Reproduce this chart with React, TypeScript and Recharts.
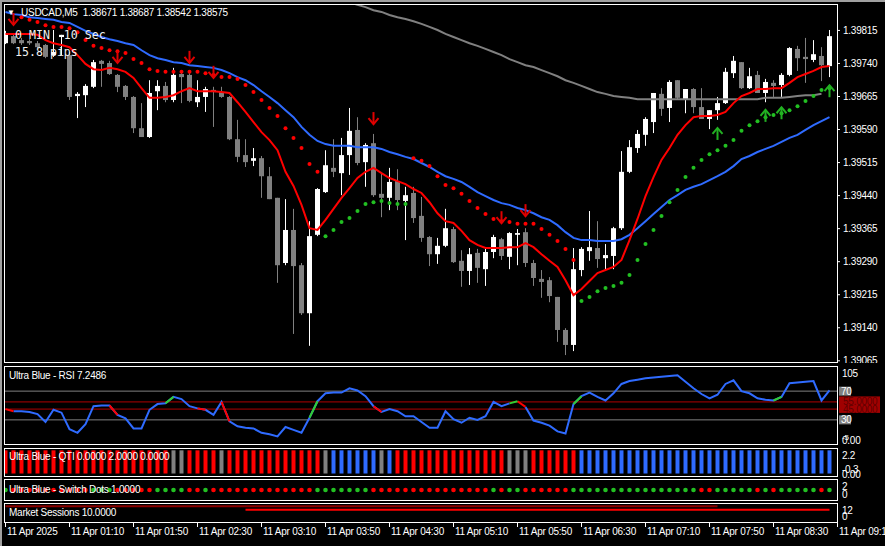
import React from 'react';
import { ComposedChart, Bar, Line, Scatter, XAxis, YAxis, ReferenceLine, Cell } from 'recharts';

const FONT = '"Liberation Sans", Arial, sans-serif';
const MONO = '"DejaVu Sans Mono", monospace';

// USDCAD M5, 104 bars from 11 Apr 00:30
const opens = [
  1.39786, 1.39802, 1.39793, 1.39791, 1.39786, 1.39782, 1.39759, 1.39800, 1.39759, 1.39666,
  1.39668, 1.39687, 1.39746, 1.39741, 1.39714, 1.39689, 1.39664, 1.39593, 1.39573, 1.39677,
  1.39689, 1.39657, 1.39716, 1.39714, 1.39652, 1.39664, 1.39680, 1.39675, 1.39664, 1.39568,
  1.39532, 1.39519, 1.39525, 1.39484, 1.39435, 1.39287, 1.39362, 1.39282, 1.39173, 1.39351,
  1.39448, 1.39503, 1.39491, 1.39532, 1.39589, 1.39516, 1.39559, 1.39444, 1.39435, 1.39473,
  1.39428, 1.39446, 1.39394, 1.39346, 1.39307, 1.39326, 1.39364, 1.39292, 1.39269, 1.39310,
  1.39273, 1.39312, 1.39341, 1.39301, 1.39351, 1.39357, 1.39287, 1.39251, 1.39248, 1.39210,
  1.39135, 1.39101, 1.39271, 1.39314, 1.39321, 1.39298, 1.39303, 1.39366, 1.39494, 1.39548,
  1.39578, 1.39607, 1.39671, 1.39639, 1.39702, 1.39659, 1.39682, 1.39641, 1.39614, 1.39634,
  1.39650, 1.39718, 1.39743, 1.39684, 1.39714, 1.39673, 1.39696, 1.39691, 1.39714, 1.39773,
  1.39755, 1.39748, 1.39757, 1.39734,
];
const highs = [
  1.39814, 1.39809, 1.39798, 1.39795, 1.39791, 1.39784, 1.39816, 1.39805, 1.39766, 1.39675,
  1.39693, 1.39748, 1.39748, 1.39746, 1.39716, 1.39691, 1.39666, 1.39650, 1.39702, 1.39702,
  1.39698, 1.39730, 1.39725, 1.39718, 1.39702, 1.39687, 1.39687, 1.39687, 1.39666, 1.39612,
  1.39568, 1.39548, 1.39530, 1.39505, 1.39435, 1.39432, 1.39410, 1.39287, 1.39382, 1.39457,
  1.39543, 1.39568, 1.39571, 1.39639, 1.39618, 1.39559, 1.39580, 1.39491, 1.39503, 1.39500,
  1.39460, 1.39460, 1.39437, 1.39348, 1.39344, 1.39410, 1.39369, 1.39316, 1.39321, 1.39319,
  1.39321, 1.39351, 1.39344, 1.39357, 1.39364, 1.39366, 1.39294, 1.39271, 1.39255, 1.39210,
  1.39139, 1.39321, 1.39323, 1.39405, 1.39382, 1.39330, 1.39369, 1.39541, 1.39566, 1.39589,
  1.39618, 1.39673, 1.39684, 1.39702, 1.39702, 1.39682, 1.39684, 1.39684, 1.39634, 1.39664,
  1.39730, 1.39757, 1.39743, 1.39730, 1.39723, 1.39705, 1.39702, 1.39718, 1.39777, 1.39780,
  1.39798, 1.39793, 1.39777, 1.39816,
];
const lows = [
  1.39784, 1.39784, 1.39782, 1.39782, 1.39775, 1.39752, 1.39755, 1.39759, 1.39657, 1.39616,
  1.39641, 1.39684, 1.39687, 1.39714, 1.39675, 1.39657, 1.39582, 1.39573, 1.39571, 1.39634,
  1.39652, 1.39652, 1.39650, 1.39652, 1.39641, 1.39630, 1.39596, 1.39662, 1.39566, 1.39516,
  1.39505, 1.39507, 1.39435, 1.39432, 1.39242, 1.39282, 1.39126, 1.39169, 1.39099, 1.39348,
  1.39446, 1.39482, 1.39441, 1.39487, 1.39509, 1.39460, 1.39437, 1.39391, 1.39407, 1.39407,
  1.39339, 1.39378, 1.39335, 1.39280, 1.39285, 1.39323, 1.39287, 1.39233, 1.39237, 1.39242,
  1.39235, 1.39298, 1.39294, 1.39273, 1.39282, 1.39278, 1.39235, 1.39208, 1.39198, 1.39108,
  1.39078, 1.39087, 1.39257, 1.39292, 1.39276, 1.39273, 1.39273, 1.39362, 1.39491, 1.39537,
  1.39553, 1.39582, 1.39621, 1.39607, 1.39659, 1.39627, 1.39627, 1.39614, 1.39591, 1.39612,
  1.39648, 1.39707, 1.39682, 1.39682, 1.39673, 1.39652, 1.39664, 1.39664, 1.39711, 1.39723,
  1.39696, 1.39743, 1.39700, 1.39709,
];
const closes = [
  1.39809, 1.39786, 1.39786, 1.39786, 1.39777, 1.39755, 1.39766, 1.39805, 1.39664, 1.39671,
  1.39689, 1.39743, 1.39739, 1.39716, 1.39687, 1.39664, 1.39593, 1.39573, 1.39673, 1.39689,
  1.39657, 1.39714, 1.39709, 1.39655, 1.39664, 1.39682, 1.39675, 1.39664, 1.39568, 1.39528,
  1.39516, 1.39525, 1.39484, 1.39432, 1.39282, 1.39362, 1.39280, 1.39173, 1.39348, 1.39455,
  1.39509, 1.39494, 1.39532, 1.39587, 1.39514, 1.39555, 1.39441, 1.39435, 1.39471, 1.39430,
  1.39441, 1.39389, 1.39344, 1.39307, 1.39326, 1.39366, 1.39289, 1.39269, 1.39307, 1.39276,
  1.39312, 1.39346, 1.39303, 1.39355, 1.39355, 1.39287, 1.39253, 1.39244, 1.39212, 1.39135,
  1.39101, 1.39273, 1.39319, 1.39323, 1.39296, 1.39305, 1.39366, 1.39494, 1.39550, 1.39580,
  1.39614, 1.39673, 1.39637, 1.39698, 1.39662, 1.39682, 1.39641, 1.39614, 1.39634, 1.39650,
  1.39721, 1.39746, 1.39684, 1.39711, 1.39673, 1.39698, 1.39689, 1.39714, 1.39775, 1.39752,
  1.39750, 1.39761, 1.39736, 1.39802,
];

// moving averages drawn on the price window
const fastMa = [
  1.39807, 1.39807, 1.39807, 1.39807, 1.39805, 1.39793, 1.39786, 1.39782, 1.39777, 1.39759,
  1.39739, 1.39727, 1.39725, 1.39730, 1.39727, 1.39721, 1.39707, 1.39684, 1.39662, 1.39662,
  1.39664, 1.39668, 1.39677, 1.39684, 1.39677, 1.39677, 1.39677, 1.39675, 1.39673, 1.39652,
  1.39630, 1.39607, 1.39584, 1.39566, 1.39543, 1.39494, 1.39462, 1.39419, 1.39366, 1.39362,
  1.39385, 1.39410, 1.39435, 1.39457, 1.39480, 1.39494, 1.39503, 1.39491, 1.39480, 1.39473,
  1.39466, 1.39455, 1.39446, 1.39425, 1.39400, 1.39382, 1.39378, 1.39360, 1.39339, 1.39328,
  1.39321, 1.39321, 1.39321, 1.39323, 1.39323, 1.39332, 1.39323, 1.39307, 1.39292, 1.39278,
  1.39248, 1.39214, 1.39228, 1.39246, 1.39264, 1.39271, 1.39278, 1.39294, 1.39339, 1.39387,
  1.39439, 1.39482, 1.39521, 1.39548, 1.39578, 1.39600, 1.39618, 1.39621, 1.39621, 1.39623,
  1.39630, 1.39650, 1.39666, 1.39673, 1.39682, 1.39682, 1.39684, 1.39684, 1.39696, 1.39709,
  1.39716, 1.39723, 1.39732, 1.39734,
];
const slowMa = [
  1.39857, 1.39852, 1.39850, 1.39845, 1.39843, 1.39841, 1.39839, 1.39834, 1.39832, 1.39823,
  1.39814, 1.39807, 1.39800, 1.39795, 1.39791, 1.39786, 1.39782, 1.39770, 1.39759, 1.39752,
  1.39748, 1.39743, 1.39741, 1.39736, 1.39734, 1.39732, 1.39730, 1.39725, 1.39718, 1.39709,
  1.39702, 1.39691, 1.39677, 1.39664, 1.39650, 1.39634, 1.39618, 1.39596, 1.39578, 1.39564,
  1.39557, 1.39553, 1.39553, 1.39553, 1.39550, 1.39550, 1.39550, 1.39546, 1.39539, 1.39534,
  1.39528, 1.39523, 1.39514, 1.39505, 1.39494, 1.39484, 1.39478, 1.39471, 1.39460, 1.39448,
  1.39439, 1.39430, 1.39423, 1.39419, 1.39412, 1.39407, 1.39400, 1.39391, 1.39385, 1.39373,
  1.39357, 1.39344, 1.39339, 1.39339, 1.39337, 1.39337, 1.39337, 1.39341, 1.39351, 1.39366,
  1.39382, 1.39398, 1.39414, 1.39430, 1.39441, 1.39453, 1.39460, 1.39466, 1.39475, 1.39484,
  1.39494, 1.39507, 1.39523, 1.39530, 1.39539, 1.39546, 1.39553, 1.39562, 1.39571, 1.39578,
  1.39589, 1.39600, 1.39609, 1.39618,
];
// long MA enters the window from above around bar 42
const longMaStart = 42;
const longMa = [
  1.39886, 1.39879, 1.39873, 1.39868, 1.39861, 1.39857, 1.39850, 1.39845, 1.39841, 1.39836,
  1.39830, 1.39823, 1.39816, 1.39807, 1.39800, 1.39793, 1.39786, 1.39780, 1.39773, 1.39766,
  1.39759, 1.39750, 1.39743, 1.39736, 1.39732, 1.39725, 1.39718, 1.39711, 1.39702, 1.39696,
  1.39689, 1.39682, 1.39675, 1.39671, 1.39666, 1.39664, 1.39662, 1.39659, 1.39659, 1.39659,
  1.39659, 1.39659, 1.39659, 1.39659, 1.39659, 1.39659, 1.39659, 1.39659, 1.39659, 1.39659,
  1.39659, 1.39659, 1.39659, 1.39662, 1.39662, 1.39662, 1.39664, 1.39666, 1.39668, 1.39668,
  1.39671,
];

// trailing stop dots, from bar 2
const sarStart = 2;
const sarDots = [
  1.39845, 1.39839, 1.39834, 1.39827, 1.39823, 1.39823, 1.39820, 1.39811, 1.39793, 1.39780,
  1.39775, 1.39770, 1.39768, 1.39764, 1.39750, 1.39741, 1.39727, 1.39723, 1.39721, 1.39721,
  1.39721, 1.39721, 1.39721, 1.39718, 1.39714, 1.39709, 1.39709, 1.39705, 1.39691, 1.39675,
  1.39657, 1.39639, 1.39621, 1.39593, 1.39571, 1.39548, 1.39512, 1.39494,
  1.39348, 1.39362, 1.39380, 1.39389, 1.39405, 1.39421, 1.39425, 1.39428, 1.39423, 1.39421,
  1.39421,
  1.39525, 1.39519, 1.39507, 1.39484, 1.39464, 1.39457, 1.39444, 1.39428, 1.39412, 1.39398,
  1.39387, 1.39382, 1.39380, 1.39376, 1.39376, 1.39376, 1.39364, 1.39351, 1.39337, 1.39319,
  1.39294,
  1.39201, 1.39210, 1.39223, 1.39230, 1.39235, 1.39242, 1.39260, 1.39294, 1.39330, 1.39362,
  1.39394, 1.39425, 1.39453, 1.39482, 1.39503, 1.39521, 1.39534, 1.39543, 1.39553, 1.39566,
  1.39587, 1.39600, 1.39609, 1.39618, 1.39623, 1.39627, 1.39634, 1.39643, 1.39655, 1.39666,
  1.39680, 1.39684,
];
const sarUpFrom = [40, 72];
const sarUpTo = [50, 103];

const downArrowBars = [1, 14, 23, 26, 46, 62, 65];
const downArrowPrices = [1.39841, 1.39755, 1.39755, 1.39721, 1.39616, 1.39391, 1.39407];
const upArrowBars = [89, 95, 97, 103];
const upArrowPrices = [1.39580, 1.39621, 1.39627, 1.39677];

const priceTicks = [1.39815, 1.3974, 1.39665, 1.3959, 1.39515, 1.3944, 1.39365, 1.3929, 1.39215, 1.3914, 1.39065];

// RSI window
const rsi = [
  45, 42, 42, 41, 38, 27, 44, 40, 17, 12, 24, 49, 50, 50, 37, 32, 18, 18, 44, 52,
  53, 62, 59, 49, 46, 44, 37, 55, 28, 21, 19, 18, 12, 10, 7, 20, 16, 12, 33, 56,
  67, 68, 68, 74, 71, 63, 49, 41, 45, 42, 35, 35, 27, 19, 19, 42, 31, 26, 33, 30,
  35, 55, 49, 53, 56, 48, 29, 26, 22, 14, 11, 52, 63, 68, 62, 57, 67, 80, 84, 86,
  88, 89, 90, 91, 92, 83, 74, 66, 60, 65, 80, 85, 70, 67, 60, 58, 57, 62, 81, 82,
  83, 84, 57, 71,
];
const rsiRedSeg = [1, 14, 25, 28, 47, 65];
const rsiGreenSeg = [21, 39, 64, 72, 97];

// QTI histogram colour runs: r red, g gray, b blue
const qtiRuns: [string, number][] = [
  ['r', 21], ['g', 2], ['r', 4], ['g', 1], ['r', 12], ['g', 1], ['b', 6], ['g', 1], ['b', 1],
  ['r', 14], ['g', 3], ['r', 6], ['b', 32],
];
const qtiLevel = 2;

// switch dots colour runs: g green, r red
const switchRuns: [string, number][] = [
  ['g', 1], ['r', 10], ['g', 3], ['r', 5], ['g', 4], ['r', 2], ['g', 1], ['r', 13], ['g', 7],
  ['r', 15], ['g', 1], ['r', 1], ['g', 2], ['r', 6], ['g', 16], ['r', 2], ['g', 5], ['r', 1],
  ['g', 1], ['r', 1], ['g', 5], ['r', 1], ['g', 1],
];

// market sessions
const sessionLevels = [10, 8];
const sessionFrom = [0, 30];
const sessionTo = [89, 103];
const sessionColors = ['#8b0000', '#ff0000'];

const timeTicks = [0, 8, 16, 24, 32, 40, 48, 56, 64, 72, 80, 88, 96, 104];
const timeLabels = [
  '11 Apr 2025', '11 Apr 01:10', '11 Apr 01:50', '11 Apr 02:30', '11 Apr 03:10', '11 Apr 03:50',
  '11 Apr 04:30', '11 Apr 05:10', '11 Apr 05:50', '11 Apr 06:30', '11 Apr 07:10', '11 Apr 07:50',
  '11 Apr 08:30', '11 Apr 09:10',
];

const X_DOMAIN: [number, number] = [-0.1875, 103.9375];
const TONES: Record<string, string> = { r: '#ff0000', g: '#808080', b: '#2f6bff' };

const expand = (runs: [string, number][]) => runs.flatMap(([t, n]) => Array(n).fill(t));
const qtiTones = expand(qtiRuns);
const switchTones = expand(switchRuns);

const rows = opens.map((o, i) => ({
  i,
  o,
  h: highs[i],
  l: lows[i],
  c: closes[i],
  range: [lows[i], highs[i]],
  fast: fastMa[i],
  slow: slowMa[i],
  long: i >= longMaStart ? longMa[i - longMaStart] : null,
}));

const isUp = (i: number) => sarUpFrom.some((f, k) => i >= f && i <= sarUpTo[k]);
const sarRed = sarDots.map((y, k) => ({ i: k + sarStart, y })).filter((p) => !isUp(p.i));
const sarGreen = sarDots.map((y, k) => ({ i: k + sarStart, y })).filter((p) => isUp(p.i));
const downArrows = downArrowBars.map((i, k) => ({ i, y: downArrowPrices[k] }));
const upArrows = upArrowBars.map((i, k) => ({ i, y: upArrowPrices[k] }));

const segTone = (i: number) =>
  rsiRedSeg.includes(i) ? 'r' : rsiGreenSeg.includes(i) ? 'g' : 'b';
const rsiRows = rsi.map((v, i) => {
  const has = (t: string) => (i > 0 && segTone(i) === t) || (i < rsi.length - 1 && segTone(i + 1) === t);
  return { i, b: has('b') ? v : null, r: has('r') ? v : null, g: has('g') ? v : null };
});

const qtiRows = qtiTones.map((t, i) => ({ i, q: qtiLevel, t }));
const switchPts = switchTones.map((t, i) => ({ i, y: 1, t }));
const sessionRows = opens.map((_, i) => {
  const row: any = { i };
  sessionLevels.forEach((lv, k) => {
    row['s' + k] = i >= sessionFrom[k] && i <= sessionTo[k] ? lv : null;
  });
  return row;
});

const Candle = (props: any) => {
  const { x, y, width, height, payload } = props;
  if (x == null || !payload) return null;
  const cx = Math.round(x + width / 2) + 0.5;
  const top = Math.min(y, y + height);
  const span = Math.abs(height);
  const { o, h, l, c } = payload;
  const k = h - l > 0 ? span / (h - l) : 0;
  const bTop = top + (h - Math.max(o, c)) * k;
  const bBot = top + (h - Math.min(o, c)) * k;
  const col = c >= o ? '#ffffff' : '#808080';
  return (
    <g>
      <line x1={cx} x2={cx} y1={top} y2={top + span} stroke={col} strokeWidth={1} />
      <rect x={cx - 2.5} y={bTop} width={5} height={Math.max(1, bBot - bTop)} fill={col} />
    </g>
  );
};

const dot = (fill: string, r: number) => (p: any) =>
  <circle cx={p.cx} cy={p.cy} r={r} fill={fill} />;

const DownArrow = (p: any) => (
  <g stroke="#e00000" strokeWidth={2} fill="none">
    <line x1={p.cx} y1={p.cy - 6} x2={p.cx} y2={p.cy + 6} />
    <polyline points={`${p.cx - 5},${p.cy} ${p.cx},${p.cy + 6} ${p.cx + 5},${p.cy}`} />
  </g>
);
const UpArrow = (p: any) => (
  <g stroke="#22b022" strokeWidth={2} fill="none">
    <line x1={p.cx} y1={p.cy + 6} x2={p.cx} y2={p.cy - 6} />
    <polyline points={`${p.cx - 5},${p.cy} ${p.cx},${p.cy - 6} ${p.cx + 5},${p.cy}`} />
  </g>
);
const SwitchDot = (p: any) => (
  <circle cx={p.cx} cy={p.cy} r={2.3} fill={p.payload.t === 'g' ? '#22c022' : '#ff0000'} />
);

const txt = { fontFamily: FONT, fontSize: 10, letterSpacing: -0.25, fill: '#ffffff' } as const;

const PriceTick = ({ x, y, payload }: any) => (
  <text x={x} y={y + 3.5} {...txt}>{payload.value.toFixed(5)}</text>
);

const RsiTick = ({ x, y, payload }: any) => {
  const v = payload.value;
  if (v === 105) return <text x={x + 5} y={y + 10.5} {...txt}>105</text>;
  if (v === 70 || v === 30)
    return (
      <g>
        <rect x={x + 2} y={y - 4.5} width={12} height={9} fill="#808080" />
        <text x={x + 4} y={y + 3.5} {...txt}>{v}</text>
      </g>
    );
  if (v === 55)
    return (
      <g>
        <rect x={x + 2} y={y - 5.5} width={41} height={16.5} fill="#a00000" />
        <text x={x + 6} y={y + 3.5} {...txt} fill="#600000">55.0000</text>
      </g>
    );
  if (v === 45) return <text x={x + 6} y={y + 3.5} {...txt} fill="#600000">45.0000</text>;
  if (v === 0) return <text x={x + 5} y={y + 3} {...txt}>0.00</text>;
  return <text x={x + 5} y={y - 5} {...txt} fontSize={8}>-5</text>;
};

const TimeTick = ({ x, y, payload }: any) => (
  <g>
    <line x1={x} x2={x} y1={y} y2={y + 4} stroke="#ffffff" />
    <text x={x + 1.5} y={y + 12} {...txt}>{timeLabels[timeTicks.indexOf(payload.value)]}</text>
  </g>
);

const xAxisHidden = <XAxis dataKey="i" type="number" domain={X_DOMAIN} allowDataOverflow hide />;

export default function App() {
  const frames = [
    [4, 363],
    [366, 445],
    [448, 477],
    [479, 501],
    [503, 523],
  ];
  return (
    <div style={{ position: 'absolute', left: 0, top: 0, width: 885, height: 546, background: '#000', overflow: 'hidden' }}>
      {/* price window */}
      <div style={{ position: 'absolute', left: 0, top: 4 }}>
        <ComposedChart width={885} height={359} data={rows} margin={{ top: 0, right: 0, bottom: 0, left: 4 }}>
          {xAxisHidden}
          <YAxis
            orientation="right"
            width={48}
            domain={[1.3906, 1.39875]}
            allowDataOverflow
            ticks={priceTicks}
            interval={0}
            tick={<PriceTick />}
            tickLine={{ stroke: '#ffffff' }}
            tickSize={3}
            tickMargin={3}
            axisLine={false}
          />
          <Bar dataKey="range" barSize={5} shape={Candle} isAnimationActive={false} />
          <Line dataKey="long" stroke="#808080" strokeWidth={2} dot={false} isAnimationActive={false} />
          <Line dataKey="slow" stroke="#2f6bff" strokeWidth={2} dot={false} isAnimationActive={false} />
          <Line dataKey="fast" stroke="#ff0000" strokeWidth={2} dot={false} isAnimationActive={false} />
          <Scatter data={sarRed} dataKey="y" shape={dot('#ff0000', 2)} isAnimationActive={false} />
          <Scatter data={sarGreen} dataKey="y" shape={dot('#22c022', 2)} isAnimationActive={false} />
          <Scatter data={downArrows} dataKey="y" shape={DownArrow} isAnimationActive={false} />
          <Scatter data={upArrows} dataKey="y" shape={UpArrow} isAnimationActive={false} />
        </ComposedChart>
      </div>

      {/* RSI */}
      <div style={{ position: 'absolute', left: 0, top: 366 }}>
        <ComposedChart width={885} height={79} data={rsiRows} margin={{ top: 0, right: 0, bottom: 0, left: 4 }}>
          {xAxisHidden}
          <YAxis
            orientation="right"
            width={48}
            domain={[-5, 105]}
            allowDataOverflow
            ticks={[105, 70, 55, 45, 30, 0, -5]}
            interval={0}
            tick={<RsiTick />}
            tickLine={false}
            tickSize={0}
            tickMargin={0}
            axisLine={false}
          />
          <ReferenceLine y={70} stroke="#808080" />
          <ReferenceLine y={30} stroke="#808080" />
          <ReferenceLine y={55} stroke="#b00000" />
          <ReferenceLine y={45} stroke="#b00000" />
          <Line dataKey="b" stroke="#2f6bff" strokeWidth={2} dot={false} isAnimationActive={false} />
          <Line dataKey="r" stroke="#ff0000" strokeWidth={2} dot={false} isAnimationActive={false} />
          <Line dataKey="g" stroke="#32cd32" strokeWidth={2} dot={false} isAnimationActive={false} />
        </ComposedChart>
      </div>

      {/* QTI */}
      <div style={{ position: 'absolute', left: 0, top: 448 }}>
        <ComposedChart width={885} height={29} data={qtiRows} margin={{ top: 0, right: 48, bottom: 0, left: 4 }}>
          {xAxisHidden}
          <YAxis domain={[-0.3, 2.2]} allowDataOverflow hide />
          <Bar dataKey="q" barSize={4} isAnimationActive={false}>
            {qtiRows.map((r) => <Cell key={r.i} fill={TONES[r.t]} />)}
          </Bar>
        </ComposedChart>
      </div>

      {/* switch dots */}
      <div style={{ position: 'absolute', left: 0, top: 479 }}>
        <ComposedChart width={885} height={22} margin={{ top: 0, right: 48, bottom: 0, left: 4 }}>
          {xAxisHidden}
          <YAxis domain={[0, 2]} allowDataOverflow hide />
          <Scatter data={switchPts} dataKey="y" shape={SwitchDot} isAnimationActive={false} />
        </ComposedChart>
      </div>

      {/* market sessions + time axis */}
      <div style={{ position: 'absolute', left: 0, top: 503 }}>
        <ComposedChart width={885} height={43} data={sessionRows} margin={{ top: 0, right: 0, bottom: 0, left: 4 }}>
          <XAxis
            dataKey="i"
            type="number"
            domain={[-0.1875, 109.9375]}
            allowDataOverflow
            ticks={timeTicks}
            interval={0}
            tick={<TimeTick />}
            tickLine={false}
            axisLine={false}
            tickSize={0}
            tickMargin={0}
            height={23}
          />
          <YAxis domain={[0, 12]} allowDataOverflow hide />
          {sessionLevels.map((_, k) => (
            <Line key={k} dataKey={'s' + k} stroke={sessionColors[k]} strokeWidth={2} dot={false} isAnimationActive={false} />
          ))}
        </ComposedChart>
      </div>

      <svg width={885} height={546} style={{ position: 'absolute', left: 0, top: 0, pointerEvents: 'none' }}>
        <rect x={0} y={0} width={885} height={2} fill="#a0a0a0" />
        <rect x={0} y={0} width={2} height={546} fill="#a0a0a0" />
        {frames.map(([t, b]) => (
          <rect key={t} x={4.5} y={t + 0.5} width={833} height={b - t - 1} fill="none" stroke="#ffffff" />
        ))}
        <text x={7} y={15} {...txt} fontSize={8}>▼</text>
        <text x={21} y={16} {...txt} style={{ whiteSpace: 'pre' }}>USDCAD,M5  1.38671 1.38687 1.38542 1.38575</text>
        <text x={15} y={39} fontFamily={MONO} fontSize={11.6} fill="#f0f0f0" style={{ whiteSpace: 'pre' }}>0 MIN  10 Sec</text>
        <text x={15} y={56} fontFamily={MONO} fontSize={11.6} fill="#f0f0f0" style={{ whiteSpace: 'pre' }}>15.8 pips</text>
        <text x={9} y={378.5} {...txt}>Ultra Blue - RSI 7.2486</text>
        <text x={9} y={459.5} {...txt}>Ultra Blue - QTI 0.0000 2.0000 0.0000</text>
        <text x={9} y={492.5} {...txt}>Ultra Blue - Switch Dots 1.0000</text>
        <text x={9} y={516} {...txt}>Market Sessions 10.0000</text>
        <text x={842} y={458.5} {...txt}>2.2</text>
        <text x={842} y={473} {...txt}>-0.3</text>
        <text x={842} y={477.5} {...txt}>0.00</text>
        <text x={842} y={489.5} {...txt}>2</text>
        <text x={842} y={498} {...txt}>0</text>
        <text x={842} y={513.5} {...txt}>12</text>
        <text x={842} y={520} {...txt}>0</text>
      </svg>
    </div>
  );
}
